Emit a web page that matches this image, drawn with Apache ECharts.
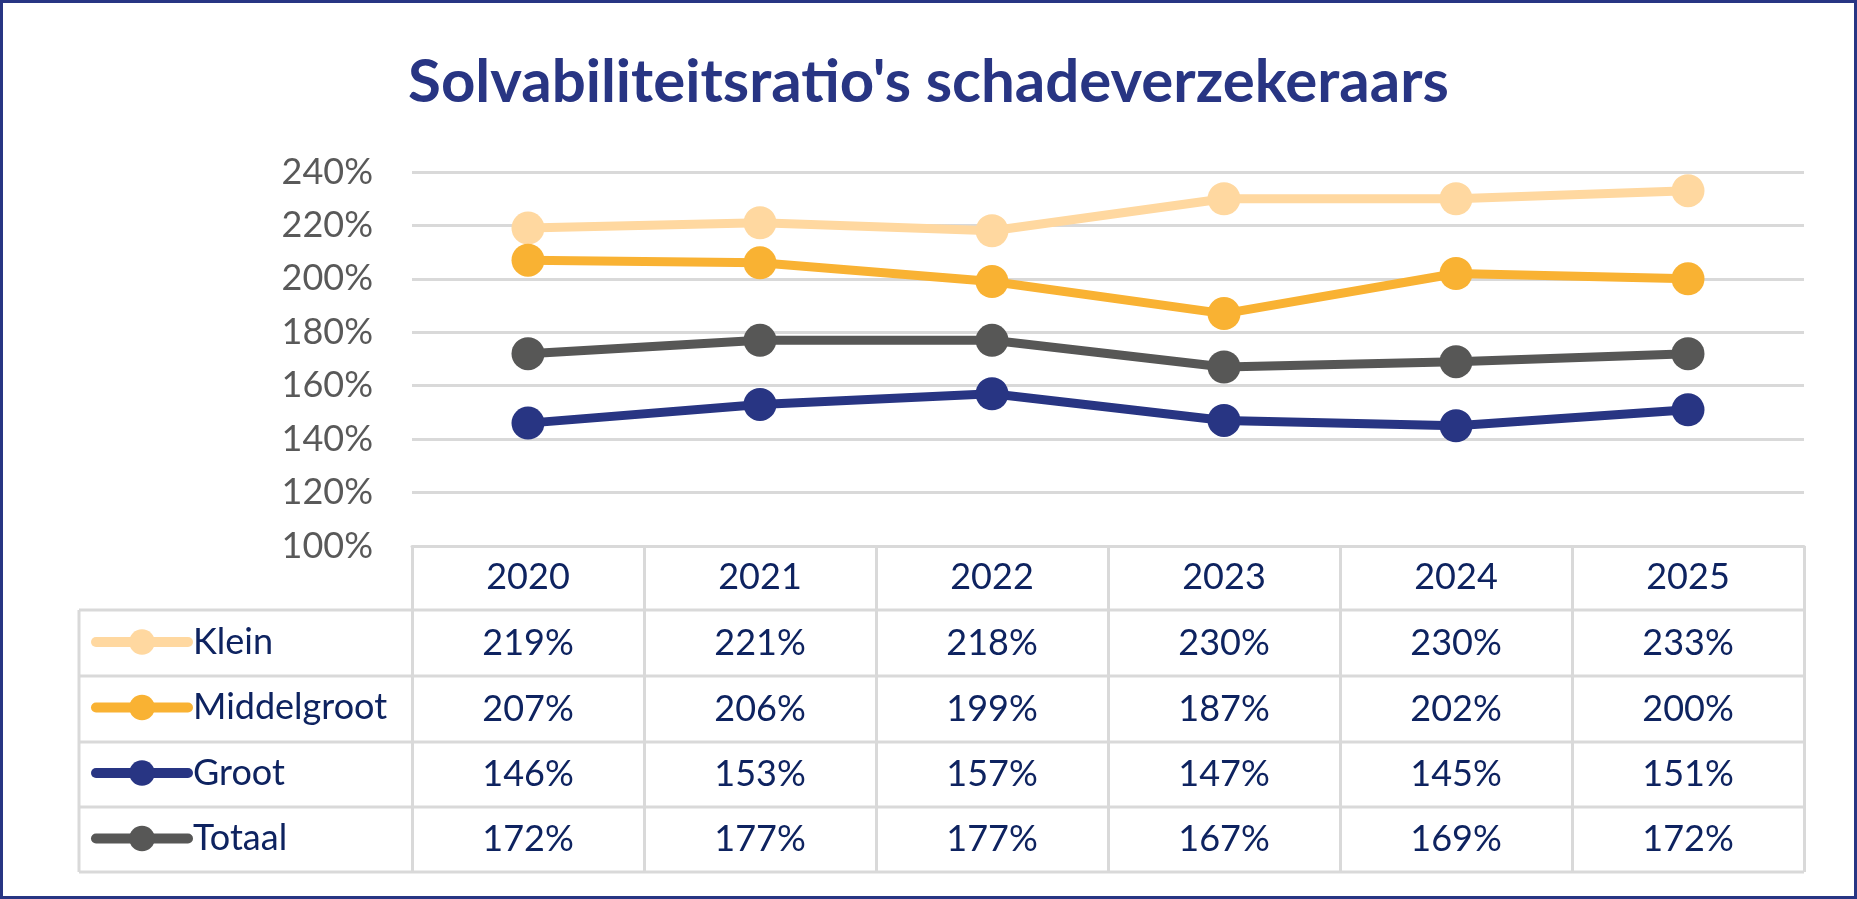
<!DOCTYPE html>
<html>
<head>
<meta charset="utf-8">
<title>Solvabiliteitsratio's schadeverzekeraars</title>
<script src="https://cdn.jsdelivr.net/npm/echarts@6/dist/echarts.min.js"></script>
<style>
    html, body { margin: 0; padding: 0; background: #fff; }
    #line_main { width: 1857px; height: 899px; }
</style>
</head>
<body>
<div id="line_main"></div>
<script>
const years = ['2020', '2021', '2022', '2023', '2024', '2025'];
const klein = [219, 221, 218, 230, 230, 233];
const middelgroot = [207, 206, 199, 187, 202, 200];
const groot = [146, 153, 157, 147, 145, 151];
const totaal = [172, 177, 177, 167, 169, 172];
const yTicks = [100, 120, 140, 160, 180, 200, 220, 240];

const seriesNames = ['Klein', 'Middelgroot', 'Groot', 'Totaal'];
const seriesData = [klein, middelgroot, groot, totaal];
const colors = ['#FFD8A0', '#F9B233', '#283583', '#575756'];

const W = 1857, H = 899;
const gridLeft = 412, gridRight = 1804, gridTop = 172, gridBottom = 546;
const tableLeft = 79;
const rowLines = [610, 676, 742, 807, 872];
const rowCenters = [643, 709, 774.5, 839.5];
const textColor = '#0E2360';
const lineGray = '#D9D9D9';
const font = 'Lato';

let lineCharts = echarts.init(document.getElementById('line_main'));

// value rows of the data table, one hidden axis per series
const rowAxes = seriesData.map(function (arr, i) {
    return {
        type: 'category',
        gridIndex: 0,
        position: 'bottom',
        offset: rowCenters[i] - gridBottom,
        data: arr.map(function (v) { return v + '%'; }),
        axisLine: { show: false },
        axisTick: { show: false },
        axisLabel: {
            interval: 0,
            margin: 0,
            verticalAlign: 'middle',
            color: textColor,
            fontFamily: font,
            fontSize: 36
        }
    };
});

// table borders
const tableLines = [];
rowLines.forEach(function (y) {
    tableLines.push({
        type: 'line',
        shape: { x1: tableLeft, y1: y, x2: gridRight, y2: y },
        style: { stroke: lineGray, lineWidth: 3 }
    });
});
tableLines.push({
    type: 'line',
    shape: { x1: tableLeft, y1: rowLines[0], x2: tableLeft, y2: rowLines[rowLines.length - 1] },
    style: { stroke: lineGray, lineWidth: 3 }
});
tableLines.push({
    type: 'rect',
    shape: { x: 1.5, y: 1.5, width: W - 3, height: H - 3 },
    style: { fill: 'none', stroke: '#283583', lineWidth: 3 },
    z: 100
});

lineCharts.setOption({
    animation: false,
    title: {
        text: "Solvabiliteitsratio's schadeverzekeraars",
        left: 'center',
        top: 48,
        textStyle: {
            color: '#283583',
            fontFamily: font,
            fontWeight: 'bold',
            fontSize: 60
        }
    },
    legend: {
        orient: 'vertical',
        left: 86,
        top: rowCenters[0] - 24,
        itemWidth: 92,
        itemHeight: 32,
        itemGap: 29.5,
        selectedMode: false,
        data: seriesNames,
        lineStyle: { width: 10, cap: 'round' },
        textStyle: {
            color: textColor,
            fontFamily: font,
            fontSize: 36,
            lineHeight: 31
        }
    },
    grid: {
        left: gridLeft,
        right: W - gridRight,
        top: gridTop,
        bottom: H - gridBottom,
        containLabel: false
    },
    xAxis: [{
        type: 'category',
        boundaryGap: true,
        data: years,
        axisLine: { lineStyle: { color: lineGray, width: 3 } },
        axisTick: {
            show: true,
            interval: 0,
            alignWithLabel: false,
            length: rowLines[rowLines.length - 1] - gridBottom,
            lineStyle: { color: lineGray, width: 3 }
        },
        axisLabel: {
            interval: 0,
            margin: 31,
            verticalAlign: 'middle',
            color: textColor,
            fontFamily: font,
            fontSize: 36
        }
    }].concat(rowAxes),
    yAxis: {
        type: 'value',
        min: yTicks[0],
        max: yTicks[yTicks.length - 1],
        interval: 20,
        axisLine: { show: false },
        axisTick: { show: false },
        splitLine: { lineStyle: { color: lineGray, width: 3 } },
        axisLabel: {
            margin: 39,
            formatter: '{value}%',
            color: '#595959',
            fontFamily: font,
            fontSize: 36
        }
    },
    graphic: tableLines,
    series: seriesNames.map(function (name, i) {
        return {
            type: 'line',
            name: name,
            data: seriesData[i],
            symbol: 'circle',
            symbolSize: 33,
            itemStyle: { color: colors[i] },
            lineStyle: { width: 9, color: colors[i] }
        };
    })
});
window.addEventListener('resize', function () {
    lineCharts.resize();
});
</script>
</body>
</html>
